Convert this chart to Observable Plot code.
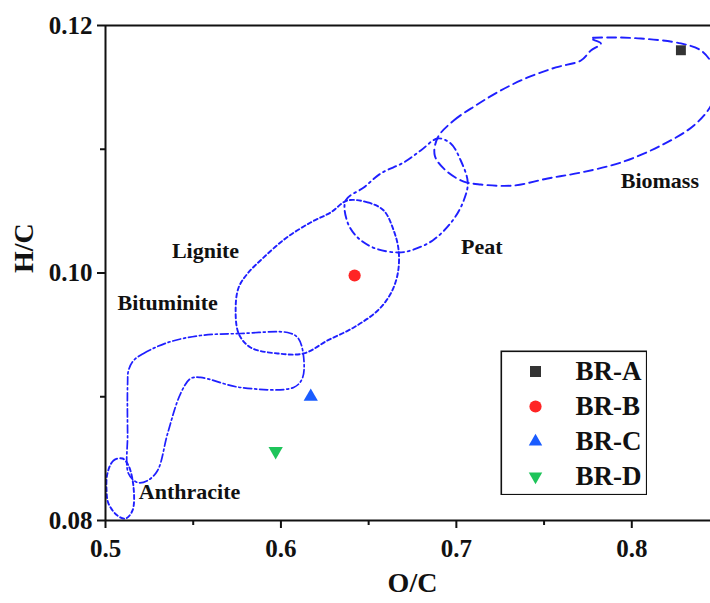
<!DOCTYPE html>
<html>
<head>
<meta charset="utf-8">
<script src="https://cdn.jsdelivr.net/npm/d3@7"></script>
<script src="https://cdn.jsdelivr.net/npm/@observablehq/plot@0.6"></script>
<style>
  body { margin: 0; background: #fff; overflow: hidden; }
  #wrap { position: relative; width: 710px; height: 603px; overflow: hidden; }
  #legend { position: absolute; left: 500px; top: 350px; }
</style>
</head>
<body>
<div id="wrap"><div id="chart"></div><div id="legend"></div></div>
<script>
// ---- Samples ----
const samples = ["BR-A", "BR-B", "BR-C", "BR-D"];
const ocValues = [0.828, 0.642, 0.617, 0.597];
const hcValues = [0.118, 0.0998, 0.0900, 0.0856];

// ---- Axis ticks ----
const xMajorTicks = [0.5, 0.6, 0.7, 0.8];
const xMinorTicks = [0.55, 0.65, 0.75];
const yMajorTicks = [0.08, 0.10, 0.12];
const yMinorTicks = [0.09, 0.11];
const xTitle = "O/C";
const yTitle = "H/C";

// ---- Region labels ----
const regionNames = ["Biomass", "Peat", "Lignite", "Bituminite", "Anthracite"];
const labelOC = [0.816, 0.7145, 0.557, 0.5354, 0.5479];
const labelHC = [0.1074, 0.1021, 0.1018, 0.0976, 0.0823];

// ---- Region outlines (O/C, H/C) ----
const biomassOC = [0.6894, 0.6985, 0.7111, 0.7253, 0.7407, 0.7567, 0.7710, 0.7767, 0.7824, 0.7767, 0.7864, 0.8052, 0.8280, 0.8394, 0.8463, 0.8486, 0.8452, 0.8354, 0.8166, 0.7938, 0.7710, 0.7521, 0.7327, 0.7139, 0.7042, 0.6940, 0.6877];
const biomassHC = [0.11095, 0.11232, 0.11354, 0.11475, 0.1158, 0.11661, 0.11717, 0.11798, 0.11855, 0.11895, 0.11903, 0.11895, 0.11855, 0.11798, 0.11677, 0.11515, 0.11354, 0.11192, 0.1103, 0.10893, 0.10812, 0.10764, 0.10707, 0.10715, 0.10739, 0.10828, 0.10949];

const peatOC = [0.6894, 0.6968, 0.7025, 0.7065, 0.7042, 0.6979, 0.6865, 0.6740, 0.6666, 0.6540, 0.6443, 0.6380, 0.6369, 0.6472, 0.6569, 0.6700, 0.6797];
const peatHC = [0.11087, 0.11046, 0.10909, 0.10731, 0.10586, 0.10424, 0.10263, 0.10182, 0.10166, 0.10198, 0.10279, 0.10408, 0.10586, 0.10691, 0.10804, 0.10893, 0.1099];

const ligniteOC = [0.6380, 0.6495, 0.6586, 0.6643, 0.6671, 0.6666, 0.6626, 0.6552, 0.6415, 0.6266, 0.6130, 0.5981, 0.5827, 0.5759, 0.5742, 0.5759, 0.5810, 0.5895, 0.6026, 0.6169, 0.6283];
const ligniteHC = [0.10586, 0.1057, 0.10505, 0.10343, 0.10182, 0.09996, 0.09834, 0.09697, 0.0956, 0.09455, 0.0935, 0.0935, 0.09398, 0.09511, 0.09721, 0.09883, 0.09996, 0.10117, 0.10279, 0.10408, 0.10489];

const bituminiteOC = [0.5160, 0.5217, 0.5354, 0.5542, 0.5770, 0.6038, 0.6095, 0.6124, 0.6124, 0.6072, 0.5770, 0.5542, 0.5485, 0.5428, 0.5354, 0.5297, 0.5240, 0.5183, 0.5131, 0.5126, 0.5126, 0.5131];
const bituminiteHC = [0.09293, 0.0935, 0.09438, 0.09495, 0.09511, 0.09519, 0.09479, 0.09374, 0.09156, 0.09075, 0.09075, 0.09156, 0.09147, 0.09026, 0.08703, 0.08404, 0.08323, 0.08307, 0.0838, 0.08703, 0.09107, 0.09212];

const anthraciteOC = [0.5011, 0.5046, 0.5097, 0.5131, 0.5160, 0.5154, 0.5114, 0.5068, 0.5017, 0.5006];
const anthraciteHC = [0.0838, 0.08485, 0.08501, 0.08444, 0.08267, 0.08081, 0.08016, 0.0804, 0.08137, 0.08242];

// ---- Styles ----
const FONT = "'Liberation Serif', 'Times New Roman', Times, serif";
const INK = "#111";
const OUTLINE = "#1f1fff";
const sampleColors = ["#333333", "#ff2424", "#1a5cff", "#1ec45a"];
const triangleDown = {
  draw(context, size) {
    const s3 = Math.sqrt(3);
    const y = -Math.sqrt(size / (s3 * 3));
    context.moveTo(0, -y * 2);
    context.lineTo(-s3 * y, y);
    context.lineTo(s3 * y, y);
    context.closePath();
  }
};
const sampleSymbols = ["square", "circle", "triangle", triangleDown];
const sampleR = [5.6, 6.1, 5.3, 5.3];
const legendR = [6.2, 6.1, 5.0, 5.0];

const regions = [
  {oc: biomassOC, hc: biomassHC, dash: "9,5", width: 1.9},
  {oc: peatOC, hc: peatHC, dash: "8,4,2,4", width: 1.9},
  {oc: ligniteOC, hc: ligniteHC, dash: "4,3", width: 1.9},
  {oc: bituminiteOC, hc: bituminiteHC, dash: "8,3,2,3", width: 1.7},
  {oc: anthraciteOC, hc: anthraciteHC, dash: "4,3", width: 1.9}
];

const points = samples.map((s, i) => ({sample: s, oc: ocValues[i], hc: hcValues[i]}));

const chart = Plot.plot({
  width: 710,
  height: 603,
  marginLeft: 105,
  marginRight: -9,
  marginTop: 25,
  marginBottom: 83,
  style: {fontFamily: FONT, color: INK, background: "white"},
  x: {domain: [0.5, 0.85], label: null},
  y: {domain: [0.08, 0.12], label: null},
  marks: [
    ...regions.map(r => Plot.line(r.oc.map((v, i) => ({oc: v, hc: r.hc[i]})), {
      x: "oc", y: "hc", curve: "catmull-rom-closed",
      stroke: OUTLINE, strokeWidth: r.width, strokeDasharray: r.dash, clip: true
    })),
    Plot.ruleY([0.08, 0.12], {stroke: INK, strokeWidth: 2}),
    Plot.ruleX([0.5], {stroke: INK, strokeWidth: 2}),
    Plot.axisX({ticks: xMajorTicks, tickSize: 8, tickPadding: 11, tickFormat: d3.format(".1f"),
      fontSize: 25, fontWeight: "bold", strokeWidth: 2, label: null}),
    Plot.axisX({ticks: xMinorTicks, tickSize: 5, tickFormat: () => "", strokeWidth: 2, label: null}),
    Plot.axisY({ticks: yMajorTicks, tickSize: 8, tickPadding: 5, tickFormat: d3.format(".2f"),
      fontSize: 25, fontWeight: "bold", strokeWidth: 2, label: null}),
    Plot.axisY({ticks: yMinorTicks, tickSize: 5, tickFormat: () => "", strokeWidth: 2, label: null}),
    Plot.text(regionNames, {x: (d, i) => labelOC[i], y: (d, i) => labelHC[i], text: d => d,
      fontSize: 22, fontWeight: "bold", fill: INK}),
    ...points.map((p, i) => Plot.dot([p], {x: "oc", y: "hc", symbol: sampleSymbols[i],
      fill: sampleColors[i], r: sampleR[i]})),
    Plot.text([xTitle], {frameAnchor: "bottom", dy: 71, text: d => d, fontSize: 28, fontWeight: "bold", fill: INK}),
    Plot.text([yTitle], {frameAnchor: "left", dx: -81, rotate: -90, text: d => d, fontSize: 28, fontWeight: "bold", fill: INK})
  ]
});
document.getElementById("chart").appendChild(chart);

const legend = Plot.plot({
  width: 147,
  height: 145,
  margin: 0,
  style: {fontFamily: FONT, color: INK, background: "white"},
  y: {type: "point", domain: samples, range: [20, 127], padding: 0, axis: null},
  marks: [
    Plot.frame({stroke: INK, strokeWidth: 1.6, inset: 0.8}),
    ...samples.map((s, i) => Plot.dot([s], {y: d => d, frameAnchor: "left", dx: 35,
      symbol: sampleSymbols[i], fill: sampleColors[i], r: legendR[i]})),
    Plot.text(samples, {y: d => d, text: d => d, frameAnchor: "left", dx: 75, textAnchor: "start",
      fontSize: 27, fontWeight: "bold", fill: INK})
  ]
});
document.getElementById("legend").appendChild(legend);
</script>
</body>
</html>
